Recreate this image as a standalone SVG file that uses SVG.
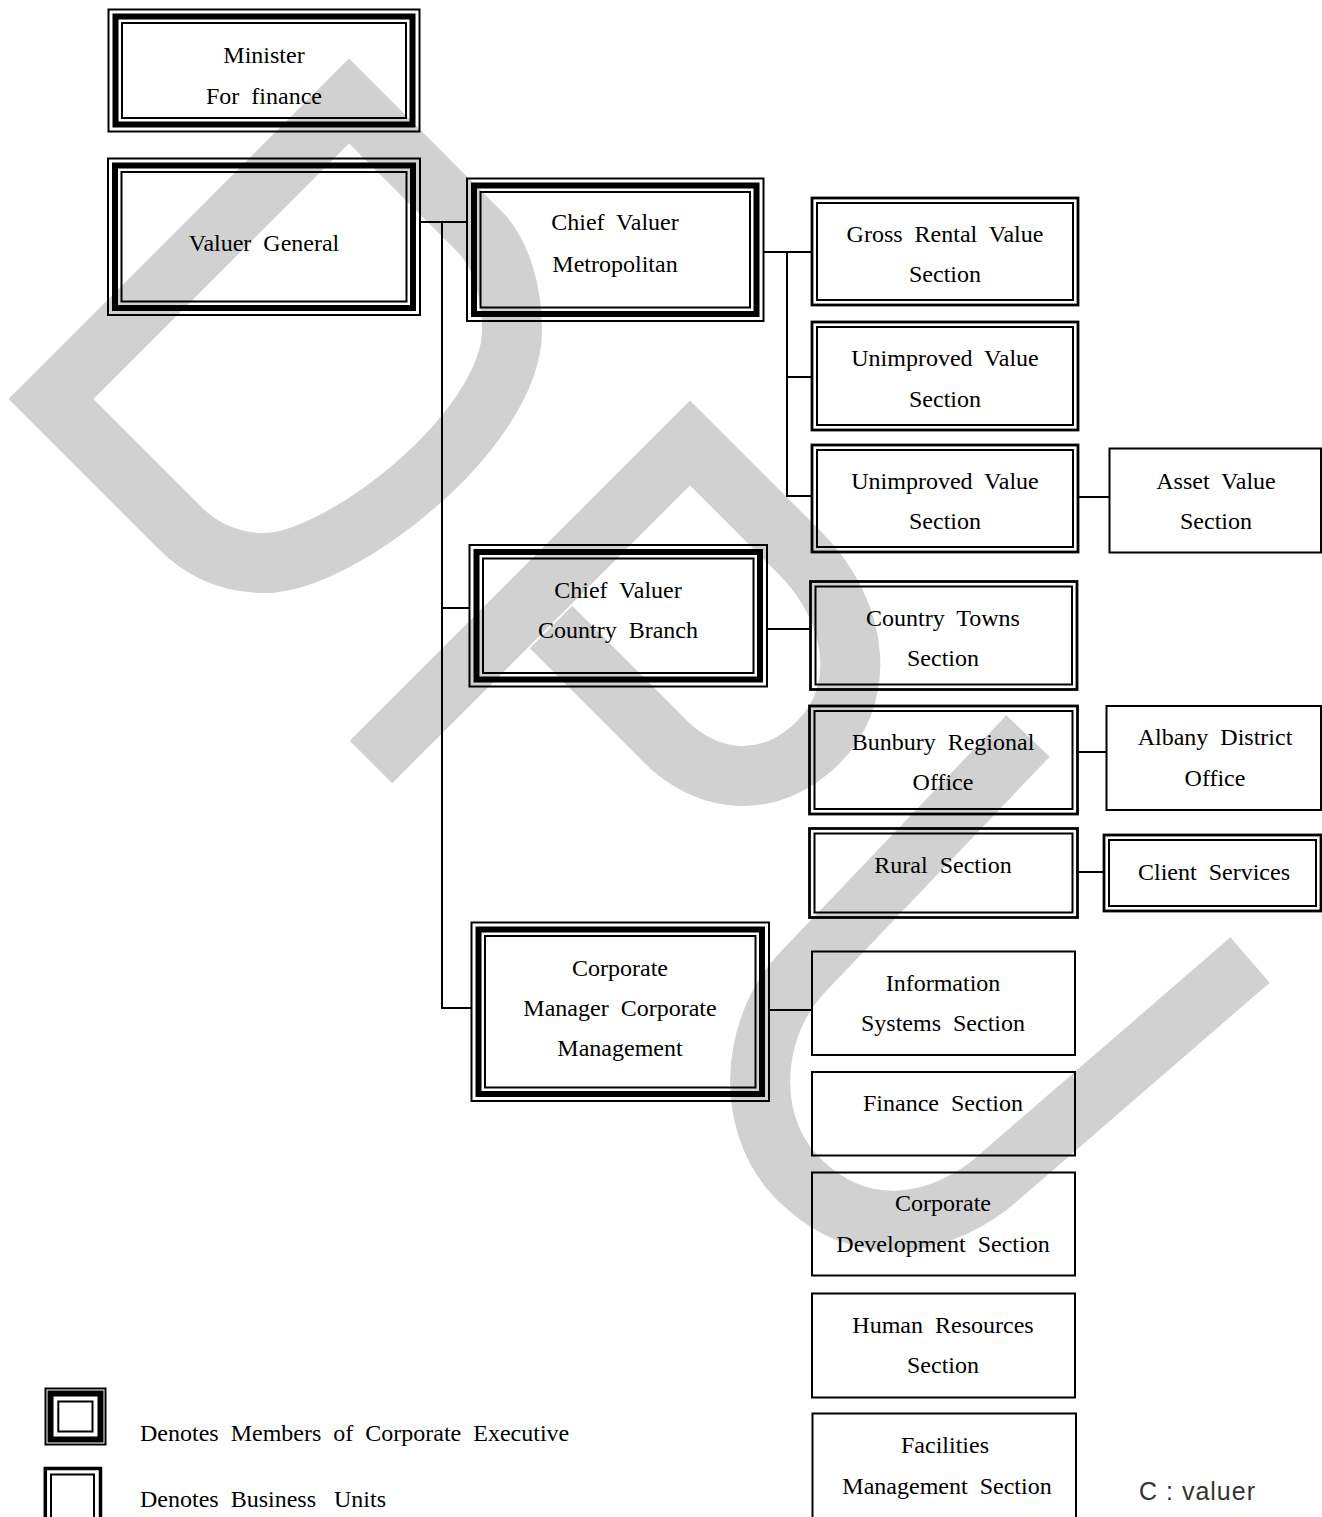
<svg xmlns="http://www.w3.org/2000/svg" width="1322" height="1517" viewBox="0 0 1322 1517">
<style>
.wm{fill:none;stroke:#d1d1d1;stroke-width:60;stroke-linejoin:miter;stroke-miterlimit:10;stroke-linecap:butt}
.eo{fill:none;stroke:#000;stroke-width:2}
.et{fill:none;stroke:#000;stroke-width:6}
.ei{fill:none;stroke:#000;stroke-width:2}
.do{fill:none;stroke:#000;stroke-width:2.8}
.di{fill:none;stroke:#000;stroke-width:2}
.s{fill:none;stroke:#000;stroke-width:2}
.t{font-family:"Liberation Serif","Times New Roman",serif;font-size:24px;fill:#000;text-anchor:middle;white-space:pre}
.tl{font-family:"Liberation Serif","Times New Roman",serif;font-size:24px;fill:#000;white-space:pre}
.conn line{stroke:#000;stroke-width:2}
</style>
<rect width="1322" height="1517" fill="#fff"/>
<g id="watermark">
<path class="wm" d="M349,101 L51,399 L180,528 C205,553 235,563 265,563 C340,563 512,430 512,330 C512,290 500,252 480,232 Z"/>
<path class="wm" d="M371,762 L690,443 L800,553 C860,613 870,700 810,750 C760,792 700,780 660,736 L551,627"/>
<path class="wm" d="M1028,736 L800,975 C750,1030 742,1130 805,1185 C860,1235 930,1230 990,1185 L1250,960"/>
</g>
<g id="connectors" class="conn">
<line x1="420" y1="222" x2="467" y2="222"/>
<line x1="442" y1="221" x2="442" y2="1009"/>
<line x1="441" y1="608" x2="470" y2="608"/>
<line x1="441" y1="1008" x2="472" y2="1008"/>
<line x1="764" y1="252" x2="812" y2="252"/>
<line x1="787" y1="251" x2="787" y2="497"/>
<line x1="786" y1="377" x2="812" y2="377"/>
<line x1="786" y1="496" x2="812" y2="496"/>
<line x1="1079" y1="497" x2="1110" y2="497"/>
<line x1="767" y1="629" x2="810" y2="629"/>
<line x1="1078" y1="752" x2="1107" y2="752"/>
<line x1="1078" y1="872" x2="1104" y2="872"/>
<line x1="769" y1="1010" x2="812" y2="1010"/>
</g>
<g id="minister">
<rect class="eo" x="108.5" y="9.5" width="311" height="122"/>
<rect class="et" x="115.5" y="16.5" width="297" height="108"/>
<rect class="ei" x="122" y="23" width="284" height="95"/>
<text class="t" x="264" y="63">Minister</text>
<text class="t" x="264" y="104">For  finance</text>
</g>
<g id="valuer-general">
<rect class="eo" x="108" y="158.5" width="312" height="156.5"/>
<rect class="et" x="115" y="165.5" width="298" height="142.5"/>
<rect class="ei" x="121.5" y="172" width="285" height="129.5"/>
<text class="t" x="264" y="251">Valuer  General</text>
</g>
<g id="chief-valuer-metropolitan">
<rect class="eo" x="467" y="178.5" width="296.5" height="142.5"/>
<rect class="et" x="474" y="185.5" width="282.5" height="128.5"/>
<rect class="ei" x="480.5" y="192" width="269.5" height="115.5"/>
<text class="t" x="615" y="230">Chief  Valuer</text>
<text class="t" x="615" y="272">Metropolitan</text>
</g>
<g id="gross-rental">
<rect class="do" x="812" y="198" width="266" height="107"/>
<rect class="di" x="817" y="203" width="256" height="97"/>
<text class="t" x="945" y="242">Gross  Rental  Value</text>
<text class="t" x="945" y="282">Section</text>
</g>
<g id="unimproved-1">
<rect class="do" x="812" y="322" width="266" height="108"/>
<rect class="di" x="817" y="327" width="256" height="98"/>
<text class="t" x="945" y="366">Unimproved  Value</text>
<text class="t" x="945" y="407">Section</text>
</g>
<g id="unimproved-2">
<rect class="do" x="812" y="445" width="266" height="107"/>
<rect class="di" x="817" y="450" width="256" height="97"/>
<text class="t" x="945" y="489">Unimproved  Value</text>
<text class="t" x="945" y="529">Section</text>
</g>
<g id="asset-value">
<rect class="s" x="1109.5" y="448.5" width="211.5" height="104"/>
<text class="t" x="1216" y="489">Asset  Value</text>
<text class="t" x="1216" y="529">Section</text>
</g>
<g id="chief-valuer-country">
<rect class="eo" x="469.5" y="545" width="297.5" height="141.5"/>
<rect class="et" x="476.5" y="552" width="283.5" height="127.5"/>
<rect class="ei" x="483" y="558.5" width="270.5" height="114.5"/>
<text class="t" x="618" y="598">Chief  Valuer</text>
<text class="t" x="618" y="638">Country  Branch</text>
</g>
<g id="country-towns">
<rect class="do" x="810.5" y="581.5" width="266.5" height="108"/>
<rect class="di" x="815.5" y="586.5" width="256.5" height="98"/>
<text class="t" x="943" y="626">Country  Towns</text>
<text class="t" x="943" y="666">Section</text>
</g>
<g id="bunbury">
<rect class="do" x="809.5" y="706" width="268" height="108"/>
<rect class="di" x="814.5" y="711" width="258" height="98"/>
<text class="t" x="943" y="750">Bunbury  Regional</text>
<text class="t" x="943" y="790">Office</text>
</g>
<g id="albany">
<rect class="s" x="1106.5" y="706" width="214.5" height="104"/>
<text class="t" x="1215" y="745">Albany  District</text>
<text class="t" x="1215" y="786">Office</text>
</g>
<g id="rural">
<rect class="do" x="809.5" y="828.5" width="268" height="89"/>
<rect class="di" x="814.5" y="833.5" width="258" height="79"/>
<text class="t" x="943" y="873">Rural  Section</text>
</g>
<g id="client-services">
<rect class="do" x="1104" y="835" width="217" height="76"/>
<rect class="di" x="1109" y="840" width="207" height="66"/>
<text class="t" x="1214" y="880">Client  Services</text>
</g>
<g id="corporate-manager">
<rect class="eo" x="471.5" y="922.5" width="297.5" height="178.5"/>
<rect class="et" x="478.5" y="929.5" width="283.5" height="164.5"/>
<rect class="ei" x="485" y="936" width="270.5" height="151.5"/>
<text class="t" x="620" y="976">Corporate</text>
<text class="t" x="620" y="1016">Manager  Corporate</text>
<text class="t" x="620" y="1056">Management</text>
</g>
<g id="information-systems">
<rect class="s" x="812" y="951.5" width="263" height="103.5"/>
<text class="t" x="943" y="991">Information</text>
<text class="t" x="943" y="1031">Systems  Section</text>
</g>
<g id="finance">
<rect class="s" x="812" y="1072" width="263" height="83.5"/>
<text class="t" x="943" y="1111">Finance  Section</text>
</g>
<g id="corporate-development">
<rect class="s" x="812" y="1172.5" width="263" height="103"/>
<text class="t" x="943" y="1211">Corporate</text>
<text class="t" x="943" y="1252">Development  Section</text>
</g>
<g id="human-resources">
<rect class="s" x="812" y="1293.5" width="263" height="104"/>
<text class="t" x="943" y="1333">Human  Resources</text>
<text class="t" x="943" y="1373">Section</text>
</g>
<g id="facilities">
<rect class="s" x="812.5" y="1413.5" width="263.5" height="110"/>
<text class="t" x="945" y="1453">Facilities</text>
<text class="t" x="947" y="1494">Management  Section</text>
</g>
<g id="legend">
<rect class="eo" x="45.5" y="1388.5" width="60" height="56"/>
<rect class="et" x="50.5" y="1393.5" width="50" height="46"/>
<rect class="ei" x="58.3" y="1401.5" width="34.2" height="30"/>
<text class="tl" x="140" y="1441">Denotes  Members  of  Corporate  Executive</text>
<rect fill="none" stroke="#000" stroke-width="3.5" x="45.3" y="1468.5" width="55.2" height="60"/>
<rect class="di" x="51" y="1474.5" width="43" height="55"/>
<text class="tl" x="140" y="1507">Denotes  Business   Units</text>
</g>
<text x="1139" y="1500" font-family="Liberation Sans, Arial, sans-serif" font-size="25" letter-spacing="1" fill="#333">C : valuer</text>
</svg>
